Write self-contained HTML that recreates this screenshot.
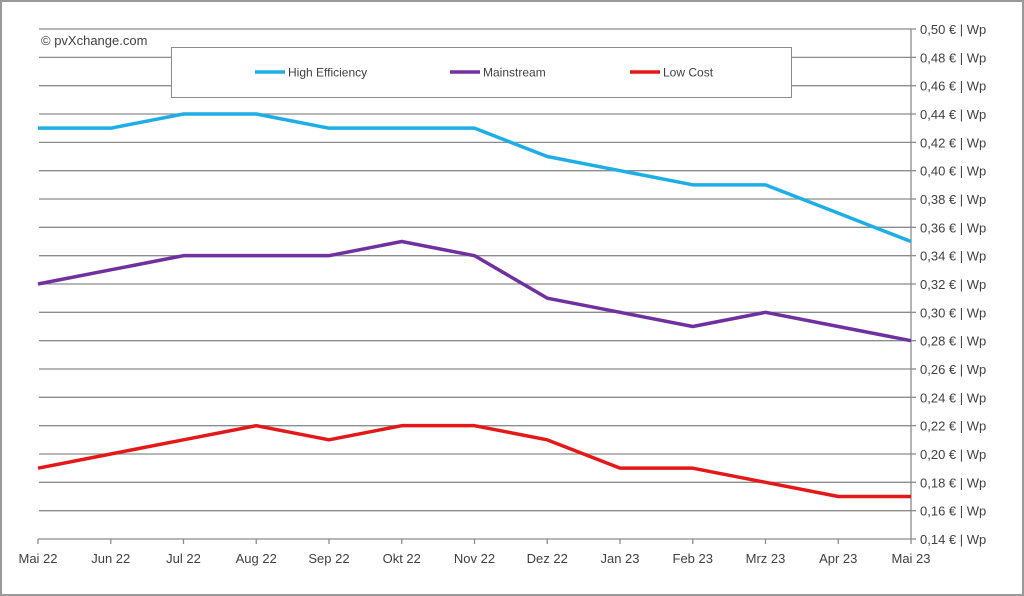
<!DOCTYPE html>
<html><head><meta charset="utf-8"><style>
html,body{margin:0;padding:0;background:#fff;}
svg{display:block;font-family:"Liberation Sans",sans-serif;}
</style></head><body>
<svg id="c" width="1024" height="596" xmlns="http://www.w3.org/2000/svg"></svg>
<script>
const s=document.getElementById('c');
let h='<rect x="1" y="1" width="1022" height="594" fill="#fff" stroke="#9a9a9a" stroke-width="2"/>';
const x0=38,x1=911,dx=(x1-x0)/12;
const Y=v=>539-(v-0.14)/0.02*28.333;
for(let i=0;i<=18;i++){const v=0.14+i*0.02,y=Y(v);
 if(i>0)h+=`<line x1="39" x2="${x1}" y1="${y}" y2="${y}" stroke="#8c8c8c" stroke-width="1.3"/>`;
 h+=`<line x1="${x1}" x2="${x1+5}" y1="${y}" y2="${y}" stroke="#8c8c8c" stroke-width="1.3"/>`;
 h+=`<text x="920" y="${y+5}" font-size="13" fill="#404040">${v.toFixed(2).replace('.',',')} € | Wp</text>`;}
h+=`<line x1="${x1}" x2="${x1}" y1="29" y2="539" stroke="#8c8c8c" stroke-width="1.3"/>`;
h+=`<line x1="${x0}" x2="${x1}" y1="539" y2="539" stroke="#8c8c8c" stroke-width="1.3"/>`;
const lab=["Mai 22","Jun 22","Jul 22","Aug 22","Sep 22","Okt 22","Nov 22","Dez 22","Jan 23","Feb 23","Mrz 23","Apr 23","Mai 23"];
lab.forEach((l,i)=>{const x=x0+i*dx;h+=`<line x1="${x}" x2="${x}" y1="539" y2="544" stroke="#8c8c8c" stroke-width="1.3"/>`;
 h+=`<text x="${x}" y="563" font-size="13" fill="#404040" text-anchor="middle">${l}</text>`;});
h+='<text x="41" y="45" font-size="13" fill="#404040">© pvXchange.com</text>';
h+='<rect x="171.5" y="47.5" width="620" height="50" fill="#fff" stroke="#8c8c8c" stroke-width="1"/>';
const ser=[["#1eaee6",[.43,.43,.44,.44,.43,.43,.43,.41,.40,.39,.39,.37,.35]],["#7030a0",[.32,.33,.34,.34,.34,.35,.34,.31,.30,.29,.30,.29,.28]],["#e41818",[.19,.20,.21,.22,.21,.22,.22,.21,.19,.19,.18,.17,.17]]];
ser.forEach(([c,d])=>{h+=`<polyline fill="none" stroke="${c}" stroke-width="3.5" stroke-linejoin="round" points="${d.map((v,i)=>(x0+i*dx)+','+Y(v)).join(' ')}"/>`;});
[["#1eaee6","High Efficiency",255],["#7030a0","Mainstream",450],["#e41818","Low Cost",630]].forEach(([c,t,x])=>{
 h+=`<line x1="${x}" x2="${x+30}" y1="72" y2="72" stroke="${c}" stroke-width="3.5"/><text x="${x+33}" y="76.5" font-size="12" fill="#404040">${t}</text>`;});
s.innerHTML=h;
</script>
</body></html>
